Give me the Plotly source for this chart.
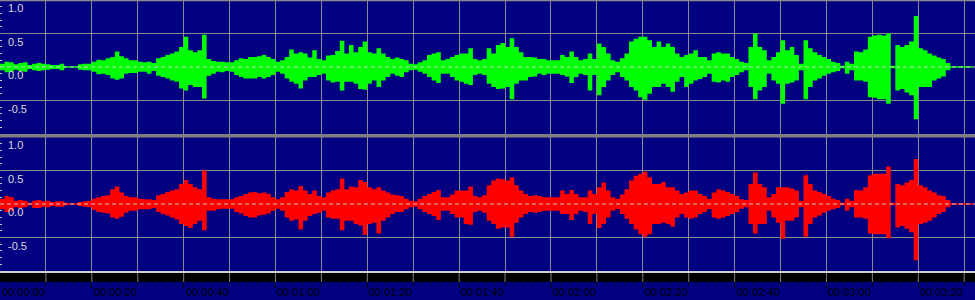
import plotly.graph_objects as go

# ---- data (envelope per second) ----
seconds = list(range(213))

green_upper = [
    0.05,0.08,0.07,0.04,0.06,0.07,0.03,0.05,0.06,0.05,
    0.04,0.03,0.03,0.05,0.01,0.01,0.01,0.04,0.05,0.05,
    0.08,0.11,0.10,0.13,0.15,0.23,0.16,0.13,0.10,0.10,
    0.08,0.07,0.08,0.06,0.13,0.15,0.18,0.20,0.23,0.30,
    0.45,0.25,0.22,0.25,0.48,0.12,0.09,0.08,0.08,0.07,
    0.07,0.10,0.13,0.12,0.15,0.15,0.16,0.18,0.15,0.12,
    0.08,0.10,0.15,0.26,0.20,0.22,0.20,0.14,0.25,0.12,
    0.10,0.17,0.18,0.24,0.39,0.20,0.33,0.22,0.30,0.38,
    0.22,0.20,0.28,0.20,0.15,0.12,0.14,0.12,0.10,0.05,
    0.04,0.07,0.10,0.18,0.20,0.22,0.10,0.12,0.15,0.18,
    0.20,0.20,0.28,0.12,0.10,0.12,0.28,0.20,0.33,0.36,
    0.30,0.43,0.30,0.22,0.15,0.15,0.14,0.12,0.12,0.10,
    0.10,0.10,0.18,0.15,0.23,0.15,0.10,0.12,0.20,0.12,
    0.35,0.30,0.20,0.10,0.08,0.13,0.20,0.38,0.42,0.45,
    0.45,0.40,0.30,0.38,0.30,0.35,0.30,0.20,0.15,0.18,
    0.20,0.25,0.15,0.15,0.10,0.20,0.22,0.20,0.20,0.15,
    0.12,0.08,0.06,0.30,0.50,0.30,0.25,0.10,0.15,0.22,
    0.40,0.25,0.30,0.18,0.05,0.40,0.28,0.22,0.18,0.15,
    0.12,0.08,0.06,0.02,0.08,0.05,0.23,0.22,0.26,0.45,
    0.47,0.48,0.47,0.50,0.02,0.33,0.30,0.33,0.38,0.76,
    0.28,0.25,0.20,0.17,0.14,0.12,0.06,0.01,0.01,0.01,
    0.01,0.01,0.01]

green_lower = [
    0.05,0.08,0.07,0.04,0.06,0.07,0.03,0.05,0.06,0.05,
    0.04,0.03,0.03,0.05,0.01,0.01,0.01,0.04,0.05,0.05,
    0.07,0.11,0.10,0.12,0.17,0.19,0.17,0.10,0.09,0.09,
    0.07,0.07,0.10,0.06,0.13,0.15,0.17,0.20,0.22,0.32,
    0.35,0.27,0.30,0.30,0.47,0.13,0.10,0.07,0.08,0.06,
    0.07,0.12,0.15,0.17,0.17,0.17,0.15,0.17,0.15,0.12,
    0.07,0.10,0.17,0.22,0.25,0.32,0.20,0.15,0.15,0.12,
    0.10,0.20,0.23,0.22,0.35,0.22,0.22,0.25,0.33,0.34,
    0.25,0.20,0.30,0.20,0.15,0.10,0.13,0.15,0.08,0.05,
    0.04,0.07,0.10,0.15,0.20,0.24,0.10,0.10,0.15,0.20,
    0.22,0.25,0.27,0.12,0.10,0.12,0.25,0.30,0.33,0.32,
    0.30,0.48,0.25,0.20,0.20,0.15,0.14,0.10,0.12,0.10,
    0.10,0.10,0.12,0.14,0.24,0.15,0.10,0.12,0.35,0.12,
    0.42,0.30,0.20,0.12,0.08,0.15,0.20,0.30,0.35,0.45,
    0.49,0.40,0.30,0.30,0.25,0.30,0.37,0.22,0.15,0.30,
    0.25,0.20,0.18,0.15,0.10,0.22,0.23,0.20,0.22,0.15,
    0.12,0.08,0.05,0.30,0.48,0.35,0.30,0.10,0.20,0.25,
    0.55,0.25,0.23,0.20,0.05,0.48,0.30,0.20,0.17,0.13,
    0.10,0.08,0.06,0.02,0.10,0.05,0.20,0.20,0.22,0.45,
    0.46,0.48,0.48,0.55,0.02,0.35,0.33,0.38,0.42,0.78,
    0.30,0.30,0.30,0.20,0.17,0.14,0.05,0.01,0.01,0.01,
    0.01,0.01,0.01]

red_upper = [
    0.08,0.12,0.10,0.05,0.06,0.05,0.02,0.05,0.06,0.04,
    0.05,0.03,0.04,0.04,0.02,0.01,0.01,0.03,0.04,0.05,
    0.08,0.10,0.12,0.13,0.22,0.26,0.17,0.12,0.10,0.10,
    0.08,0.07,0.07,0.06,0.13,0.15,0.18,0.20,0.22,0.30,
    0.36,0.30,0.25,0.22,0.50,0.10,0.08,0.07,0.07,0.07,
    0.07,0.10,0.12,0.15,0.17,0.18,0.16,0.17,0.15,0.10,
    0.07,0.10,0.18,0.22,0.20,0.27,0.20,0.15,0.20,0.12,
    0.10,0.17,0.20,0.22,0.38,0.22,0.26,0.25,0.36,0.33,
    0.25,0.22,0.25,0.20,0.17,0.14,0.13,0.12,0.08,0.05,
    0.04,0.08,0.12,0.15,0.18,0.21,0.10,0.10,0.14,0.20,
    0.20,0.20,0.26,0.12,0.10,0.13,0.28,0.35,0.38,0.37,
    0.35,0.40,0.28,0.20,0.15,0.12,0.13,0.12,0.10,0.10,
    0.10,0.10,0.20,0.15,0.21,0.15,0.10,0.10,0.20,0.15,
    0.25,0.32,0.20,0.10,0.08,0.14,0.22,0.35,0.42,0.45,
    0.48,0.40,0.30,0.30,0.33,0.25,0.25,0.20,0.15,0.17,
    0.20,0.20,0.15,0.12,0.08,0.17,0.22,0.20,0.18,0.15,
    0.12,0.07,0.06,0.30,0.47,0.30,0.25,0.10,0.15,0.25,
    0.25,0.25,0.23,0.20,0.05,0.43,0.30,0.20,0.18,0.15,
    0.12,0.08,0.06,0.02,0.08,0.05,0.21,0.20,0.25,0.43,
    0.45,0.45,0.45,0.56,0.02,0.30,0.28,0.32,0.36,0.67,
    0.28,0.25,0.20,0.17,0.13,0.12,0.06,0.01,0.01,0.01,
    0.01,0.01,0.01]

red_lower = [
    0.08,0.12,0.10,0.05,0.06,0.05,0.02,0.06,0.06,0.04,
    0.05,0.03,0.04,0.04,0.02,0.01,0.01,0.03,0.04,0.05,
    0.09,0.12,0.13,0.14,0.20,0.22,0.19,0.13,0.10,0.10,
    0.08,0.08,0.08,0.06,0.12,0.15,0.17,0.20,0.23,0.30,
    0.33,0.36,0.30,0.25,0.39,0.10,0.10,0.08,0.07,0.07,
    0.07,0.12,0.14,0.18,0.20,0.20,0.17,0.16,0.14,0.10,
    0.07,0.10,0.20,0.25,0.23,0.38,0.25,0.18,0.15,0.13,
    0.10,0.20,0.22,0.22,0.39,0.25,0.25,0.30,0.32,0.46,
    0.30,0.28,0.44,0.25,0.20,0.15,0.12,0.12,0.08,0.05,
    0.04,0.08,0.12,0.15,0.18,0.24,0.10,0.10,0.15,0.20,
    0.20,0.30,0.31,0.12,0.10,0.13,0.25,0.30,0.37,0.35,
    0.35,0.49,0.28,0.20,0.15,0.12,0.13,0.12,0.10,0.10,
    0.10,0.10,0.15,0.15,0.24,0.15,0.10,0.12,0.30,0.15,
    0.36,0.30,0.20,0.10,0.08,0.15,0.22,0.30,0.38,0.45,
    0.49,0.45,0.30,0.30,0.28,0.30,0.34,0.20,0.15,0.20,
    0.22,0.20,0.15,0.12,0.08,0.20,0.22,0.20,0.18,0.15,
    0.12,0.07,0.05,0.30,0.44,0.30,0.30,0.10,0.20,0.28,
    0.52,0.25,0.25,0.20,0.05,0.49,0.30,0.20,0.17,0.13,
    0.10,0.08,0.06,0.02,0.10,0.05,0.20,0.20,0.22,0.44,
    0.45,0.45,0.45,0.51,0.02,0.35,0.33,0.37,0.42,0.84,
    0.30,0.28,0.25,0.20,0.15,0.12,0.05,0.01,0.01,0.01,
    0.01,0.01,0.01]

time_label_secs = [0, 20, 40, 60, 80, 100, 120, 140, 160, 180, 200]
time_labels = ["00:00:00", "00:00:20", "00:00:40", "00:01:00", "00:01:20", "00:01:40",
               "00:02:00", "00:02:20", "00:02:40", "00:03:00", "00:03:20"]
grid_secs = [10, 20, 30, 40, 50, 60, 70, 80, 90, 100, 110, 120, 130, 140, 150,
             160, 170, 180, 190, 200, 210]
amp_label_vals = [1.0, 0.5, 0.0, -0.5]
amp_labels = ["1.0", "0.5", "0.0", "-0.5"]
amp_grid = [-0.5, 0.5]
amp_minor = [-0.9, -0.8, -0.7, -0.6, -0.4, -0.3, -0.2, -0.1, 0.1, 0.2, 0.3, 0.4,
             0.6, 0.7, 0.8, 0.9]

T_END = 212.35
W, H = 975, 300
NAVY = "#000080"
GRID = "#8a8a8a"
FONT = "Liberation Sans, Arial, sans-serif"

fig = go.Figure()

def add_channel(upper, lower, color, xa, ya):
    fig.add_trace(go.Scatter(x=seconds, y=upper, mode="lines", line=dict(width=0, shape="hv"),
                             xaxis=xa, yaxis=ya, showlegend=False, hoverinfo="skip"))
    fig.add_trace(go.Scatter(x=seconds, y=[-v for v in lower], mode="lines",
                             line=dict(width=0, shape="hv"), fill="tonexty", fillcolor=color,
                             xaxis=xa, yaxis=ya, showlegend=False, hoverinfo="skip"))

add_channel(green_upper, green_lower, "#00ff00", "x", "y")
add_channel(red_upper, red_lower, "#ff0000", "x2", "y2")

def px2paper(py):
    return 1 - py / H

top_dom = [px2paper(134), 1.0]
bot_dom = [px2paper(271), px2paper(137)]

xcommon = dict(range=[0, T_END], showticklabels=False, zeroline=False, showline=False,
               ticks="", tickmode="array", tickvals=grid_secs, showgrid=True,
               gridcolor=GRID, gridwidth=1)
ycommon = dict(range=[-1, 1], showticklabels=False, zeroline=False, showline=False,
               tickmode="array", tickvals=amp_grid, ticks="", showgrid=True,
               gridcolor=GRID, gridwidth=1,
               minor=dict(tickmode="array", tickvals=amp_minor, ticks="inside", ticklen=2,
                          tickcolor="#c8c8c8", tickwidth=1, showgrid=False))

fig.update_layout(
    width=W, height=H, margin=dict(l=0, r=0, t=0, b=0),
    paper_bgcolor="#f0f0f0", plot_bgcolor=NAVY,
    xaxis=dict(domain=[0, 1], anchor="y", **xcommon),
    yaxis=dict(domain=top_dom, anchor="x", **ycommon),
    xaxis2=dict(domain=[0, 1], anchor="y2", matches="x", **xcommon),
    yaxis2=dict(domain=bot_dom, anchor="x2", **ycommon),
    xaxis3=dict(domain=[0, 1], anchor="y3", range=[0, T_END], side="top",
                tickmode="array", tickvals=time_label_secs, showticklabels=False,
                ticks="inside", ticklen=6, tickcolor="#000000", tickwidth=1,
                showgrid=False, zeroline=False, showline=False,
                minor=dict(tickmode="linear", tick0=0, dtick=2, ticks="inside", ticklen=2,
                           tickcolor="#000000", showgrid=False)),
    xaxis4=dict(overlaying="x3", anchor="y3", range=[0, T_END], side="top",
                tickmode="array", tickvals=grid_secs, ticks="inside", ticklen=4,
                tickcolor="#000000", showticklabels=False, showgrid=False,
                zeroline=False, showline=False),
    yaxis3=dict(domain=[0, px2paper(282)], anchor="x3", range=[0, 1], visible=False),
)

# invisible traces so that axes 3/4 are drawn
fig.add_trace(go.Scatter(x=[0], y=[0], xaxis="x3", yaxis="y3", mode="markers",
                         marker=dict(opacity=0), showlegend=False, hoverinfo="skip"))
fig.add_trace(go.Scatter(x=[0], y=[0], xaxis="x4", yaxis="y3", mode="markers",
                         marker=dict(opacity=0), showlegend=False, hoverinfo="skip"))

shapes = []
shapes.append(dict(type="rect", xref="paper", yref="paper", x0=0, x1=1,
                   y0=px2paper(137.5), y1=px2paper(134), fillcolor="#808080",
                   line=dict(width=0), layer="below"))
shapes.append(dict(type="rect", xref="paper", yref="paper", x0=0, x1=1,
                   y0=px2paper(1.2), y1=1, fillcolor=GRID, line=dict(width=0), layer="above"))
shapes.append(dict(type="rect", xref="paper", yref="paper", x0=0, x1=1,
                   y0=px2paper(273), y1=px2paper(271), fillcolor="#d0d0d0",
                   line=dict(width=0), layer="below"))
shapes.append(dict(type="rect", xref="paper", yref="paper", x0=0, x1=1,
                   y0=px2paper(282), y1=px2paper(273), fillcolor="#000000",
                   line=dict(width=0), layer="below"))
for s in grid_secs:
    shapes.append(dict(type="line", xref="x", yref="paper", x0=s, x1=s,
                       y0=px2paper(282), y1=px2paper(273), line=dict(color="#808080", width=1),
                       layer="above"))
for ya in ["y", "y2"]:
    shapes.append(dict(type="line", xref="x domain", yref=ya, x0=0, x1=1, y0=0, y1=0,
                       line=dict(color="#c8c8c8", width=1, dash="4px,3px"), layer="above"))
fig.update_layout(shapes=shapes)

annotations = []
for ya in ["y", "y2"]:
    for v, lab in zip(amp_label_vals, amp_labels):
        annotations.append(dict(xref="paper", yref=ya, x=6 / W, y=v, text=lab,
                                showarrow=False, xanchor="left", yanchor="middle", yshift=-8,
                                font=dict(family=FONT, size=11, color="#dcdcdc")))
for s, lab in zip(time_label_secs, time_labels):
    annotations.append(dict(xref="x3", yref="paper", x=s, y=px2paper(292), text=lab,
                            showarrow=False, xanchor="left", yanchor="middle", xshift=0,
                            font=dict(family=FONT, size=11, color="#000000")))
fig.update_layout(annotations=annotations)

fig.write_html("out.html")
